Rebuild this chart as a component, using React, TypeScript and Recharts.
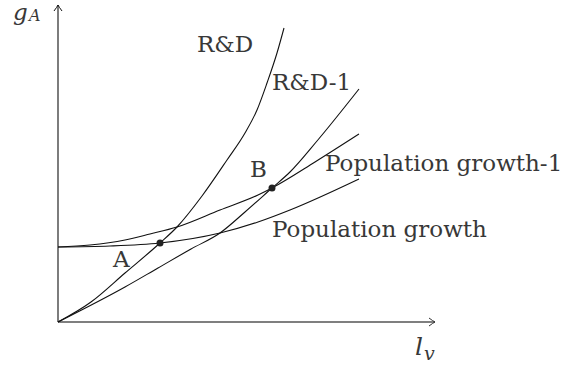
import React from 'react';
import { LineChart, Line, XAxis, YAxis, ReferenceLine, ReferenceDot } from 'recharts';

// curve points (x: labour in R&D, y: growth rate)
const rdX = [0, 33, 67, 102, 119, 144, 169, 187, 199, 209, 219, 226];
const rdY = [0, 20, 49, 79, 95, 126, 162, 189, 212, 239, 269, 294];

const rd1X = [0, 67, 100, 133, 162, 187, 214, 232, 259, 301];
const rd1Y = [0, 35, 54, 73, 89, 110, 134, 150, 181, 233];

const pop1X = [0, 32, 67, 92, 119, 162, 200, 214, 257, 301];
const pop1Y = [75, 77, 82, 88, 95, 112, 127, 134, 160, 188];

const popX = [0, 52, 102, 162, 200, 232, 301];
const popY = [75, 76, 79, 89, 100, 112, 143];

const curveNames = ['R&D', 'R&D-1', 'Population growth-1', 'Population growth'];
const pointNames = ['A', 'B'];
const pointX = [102, 214];
const pointY = [79, 134];

const X_MAX = 377;
const Y_MAX = 317;

const zip = (xs: number[], ys: number[]) => xs.map((x, i) => ({ x, y: ys[i] }));

const series = [
  { name: curveNames[0], data: zip(rdX, rdY) },
  { name: curveNames[1], data: zip(rd1X, rd1Y) },
  { name: curveNames[2], data: zip(pop1X, pop1Y) },
  { name: curveNames[3], data: zip(popX, popY) },
];

// where each text sits (left edge, baseline) in chart units
const curveLabelPos = [
  [139, 270],
  [214, 232],
  [267, 151],
  [214, 85],
];
const pointLabelPos = [
  [55, 55],
  [192, 145],
];

const FONT = '"DejaVu Serif", serif';
const INK = '#383838';

const textShape = (text: string, size: number, italic = false) => (p: any) => (
  <text
    x={p.cx}
    y={p.cy}
    fontFamily={FONT}
    fontSize={size}
    fontStyle={italic ? 'italic' : 'normal'}
    fill={INK}
  >
    {text}
  </text>
);

const arrowRight = (p: any) => (
  <path
    d={`M${p.cx - 6},${p.cy - 4} Q${p.cx - 2},${p.cy - 1} ${p.cx},${p.cy} Q${p.cx - 2},${p.cy + 1} ${p.cx - 6},${p.cy + 4}`}
    fill="none"
    stroke="#333"
    strokeWidth={1}
  />
);

const arrowUp = (p: any) => (
  <path
    d={`M${p.cx - 4},${p.cy + 6} Q${p.cx - 1},${p.cy + 2} ${p.cx},${p.cy} Q${p.cx + 1},${p.cy + 2} ${p.cx + 4},${p.cy + 6}`}
    fill="none"
    stroke="#111"
    strokeWidth={1}
  />
);

export default function App() {
  return (
    <div style={{ position: 'absolute', left: 0, top: 0, width: 576, height: 368, background: '#fff' }}>
      <LineChart width={576} height={368} margin={{ top: 5, right: 141, bottom: 46, left: 58 }}>
        <XAxis type="number" dataKey="x" domain={[0, X_MAX]} hide />
        <YAxis type="number" dataKey="y" domain={[0, Y_MAX]} hide />

        <ReferenceLine y={0} stroke="#555" strokeWidth={1.6} />
        <ReferenceLine x={0} stroke="#111" strokeWidth={1.1} />
        <ReferenceDot x={X_MAX} y={0} r={0} shape={arrowRight} ifOverflow="visible" />
        <ReferenceDot x={0} y={Y_MAX} r={0} shape={arrowUp} ifOverflow="visible" />

        {series.map((s) => (
          <Line
            key={s.name}
            data={s.data}
            dataKey="y"
            name={s.name}
            type="monotone"
            stroke="#111"
            strokeWidth={1.1}
            dot={false}
            activeDot={false}
            isAnimationActive={false}
          />
        ))}

        {pointNames.map((n, i) => (
          <ReferenceDot key={n} x={pointX[i]} y={pointY[i]} r={3.5} fill="#222" stroke="none" />
        ))}

        {curveNames.map((n, i) => (
          <ReferenceDot
            key={'lbl-' + n}
            x={curveLabelPos[i][0]}
            y={curveLabelPos[i][1]}
            r={0}
            shape={textShape(n, 23)}
            ifOverflow="visible"
          />
        ))}
        {pointNames.map((n, i) => (
          <ReferenceDot
            key={'pt-' + n}
            x={pointLabelPos[i][0]}
            y={pointLabelPos[i][1]}
            r={0}
            shape={textShape(n, 23)}
            ifOverflow="visible"
          />
        ))}

        {/* axis titles: g_A and l_v */}
        <ReferenceDot x={-45} y={302} r={0} shape={textShape('g', 23, true)} ifOverflow="visible" />
        <ReferenceDot x={-29} y={301} r={0} shape={textShape('A', 16, true)} ifOverflow="visible" />
        <ReferenceDot x={357} y={-33} r={0} shape={textShape('l', 25, true)} ifOverflow="visible" />
        <ReferenceDot x={366} y={-38} r={0} shape={textShape('v', 19, true)} ifOverflow="visible" />
      </LineChart>
    </div>
  );
}
